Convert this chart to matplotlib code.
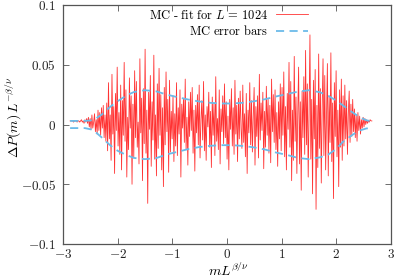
import numpy as np
import matplotlib
matplotlib.use('Agg')
import matplotlib.pyplot as plt

plt.rcParams['mathtext.fontset'] = 'cm'
plt.rcParams['font.family'] = 'DejaVu Serif'

# MC - fit residuals in units of 1e-3
dev_left_tail = [3, 3, 3, 3, 2, 3, 3, 3, 2, 3, 3, 2, 3, 4, 2, 3, 1, 4, 2, 5]
dev_left_rise = [1, 6, -2, 5, -4, 8, -3, 2, 9, -6, 4, -8, 12, -5, 10, -9, 14, -3, 16, -11, 8, -14]
dev_left_lobe = [18, -22, 35, -12, 8, -30, 42, -8, 15, -41, 26, -5, 48, -18, 10, -25, 33, -38, 20, -9,
                 52, -14, 29, -44, 6, -21, 39, -3, 24, -50, 17, -28, 45, -11, 36, -19, 2, -33, 55, -7,
                 22, -47, 30, -16, 63, -24, 12, -66, 27, -4, 41, -35, 19, -13, 58, -29, 8, -43, 34, -20,
                 47, -9, 25, -38, 14, -52, 31, -17, 44, -6, 21, -40, 37, -23, 11]
dev_center = [-12, 24, -31, 9, -18, 35, -26, 14, -8, 29, -44, 17, -3, 22, -15, 38, -21, 6, -34, 19,
              -10, 27, -5, 31, -24, 12, -39, 16, -7, 25, -17, 33, -28, 4, 20, -13, 36, -22, 8, -30,
              15, -2, 27, -19, 11, -36, 23, -9, 18, -26, 40, -14, 5, -21, 29, -33, 13, -6, 24, -16,
              34, -11, 19, -29, 7, -38, 21, -4, 30, -18, 14, -25, 37, -8, 16, -31, 22, -12, 28, -3,
              -20, 33, -15, 9, -27, 26, -41, 12, -7, 35, -17, 20, -23, 6, 31, -34, 15, -10, 24, -28,
              42, -13, 18, -5, 27, -37, 11, -19, 32, -9, 21, -24, 16, -32, 38, -6, 25, -15, 29, -21,
              10, -35, 19, -12, 34]
dev_right_lobe = [-22, 31, -9, 44, -27, 15, -38, 26, -4, 52, -19, 36, -47, 12, -30, 57, -14, 23, -41, 8,
                  48, -33, 19, -55, 28, -11, 40, -25, 62, -17, 34, -44, 9, 75, -29, 21, -58, 37, -12, 46,
                  -71, 16, -36, 59, -20, 30, -49, 13, 55, -26, 41, -38, 7, 51, -43, 24, -15, 60, -31, 18,
                  -62, 35, -10, 45, -27, 12, -52, 29, -19, 38]
dev_right_fall = [-30, 24, -18, 33, -12, 20, -25, 9, 28, -15, 17, -10, 21, -6, 13, -11, 8, -14, 10, -5, 7, -8]
dev_right_tail = [4, -3, 6, -2, 5, 0, 4, 1, 3, 2, 4, 3, 3]

# MC error bars
err_x = [-2.87, -2.6, -2.45, -2.3, -2.14, -2.0, -1.835, -1.7, -1.5, -1.3, -1.1, -0.9, -0.7, -0.5, -0.3, -0.1,
         0.1, 0.3, 0.5, 0.7, 0.9, 1.1, 1.3, 1.5, 1.7, 1.85, 2.0, 2.12, 2.3, 2.43, 2.55, 2.67]
err_upper = [0.003, 0.003, 0.0036, 0.008, 0.0147, 0.0195, 0.0245, 0.0272, 0.0287, 0.0278, 0.0250, 0.0228,
             0.0208, 0.0192, 0.0181, 0.0176, 0.0176, 0.0182, 0.0195, 0.0212, 0.0235, 0.0255, 0.0275, 0.0287,
             0.0270, 0.0240, 0.0200, 0.0160, 0.0100, 0.0060, 0.0035, 0.0025]
err_lower = [-0.003, -0.003, -0.0045, -0.0105, -0.0173, -0.022, -0.0257, -0.0280, -0.029, -0.0282, -0.025,
             -0.0228, -0.0205, -0.0188, -0.0178, -0.0173, -0.0173, -0.0180, -0.0192, -0.021, -0.0235,
             -0.0255, -0.028, -0.029, -0.0275, -0.0252, -0.0205, -0.0145, -0.0085, -0.005, -0.0033, -0.0028]

dev = np.array(dev_left_tail + dev_left_rise + dev_left_lobe + dev_center
               + dev_right_lobe + dev_right_fall + dev_right_tail) * 1e-3
x = np.linspace(-2.87, 2.65, len(dev))

fig = plt.figure(figsize=(3.95, 2.79), dpi=100)
ax = fig.add_axes([63 / 395, 35 / 279, 328 / 395, 239 / 279])

ax.plot(x, dev, color='red', lw=0.6, alpha=0.8, label=r'$\mathrm{MC\ \text{-}\ fit\ for\ }L\, =\, 1024$')
ax.plot(err_x, err_upper, color='#6cbbe9', lw=1.3, dashes=(4.5, 3), label=r'$\mathrm{MC\ error\ bars}$')
ax.plot(err_x, err_lower, color='#6cbbe9', lw=1.3, dashes=(4.5, 3))

ax.set_xlim(-3, 3)
ax.set_ylim(-0.1, 0.1)
xt = [-3, -2, -1, 0, 1, 2, 3]
yt = [-0.1, -0.05, 0, 0.05, 0.1]
ax.set_xticks(xt, labels=['$%g$' % t for t in xt])
ax.set_yticks(yt, labels=['$%g$' % t for t in yt])
ax.tick_params(direction='in', length=4, width=0.6, color='#555555', labelsize=9.5,
               top=True, right=True, labelcolor='#222222', pad=5)
ax.tick_params(axis='x', pad=3)
for s in ax.spines.values():
    s.set_color('#555555')
    s.set_linewidth(0.9)

ax.set_xlabel(r'$mL^{\beta/\nu}$', fontsize=10)
ax.set_ylabel(r'$\Delta P(m)\,L^{-\beta/\nu}$', fontsize=10)
ax.xaxis.set_label_coords(0.503, -0.077)
ax.yaxis.set_label_coords(-0.122, 0.53)

ax.legend(loc='upper right', bbox_to_anchor=(0.755, 0.995), frameon=False, markerfirst=False,
          fontsize=9, handlelength=2.6, handletextpad=0.6, labelspacing=0.2, borderaxespad=0,
          borderpad=0.2)

fig.savefig('out.png', dpi=100)
